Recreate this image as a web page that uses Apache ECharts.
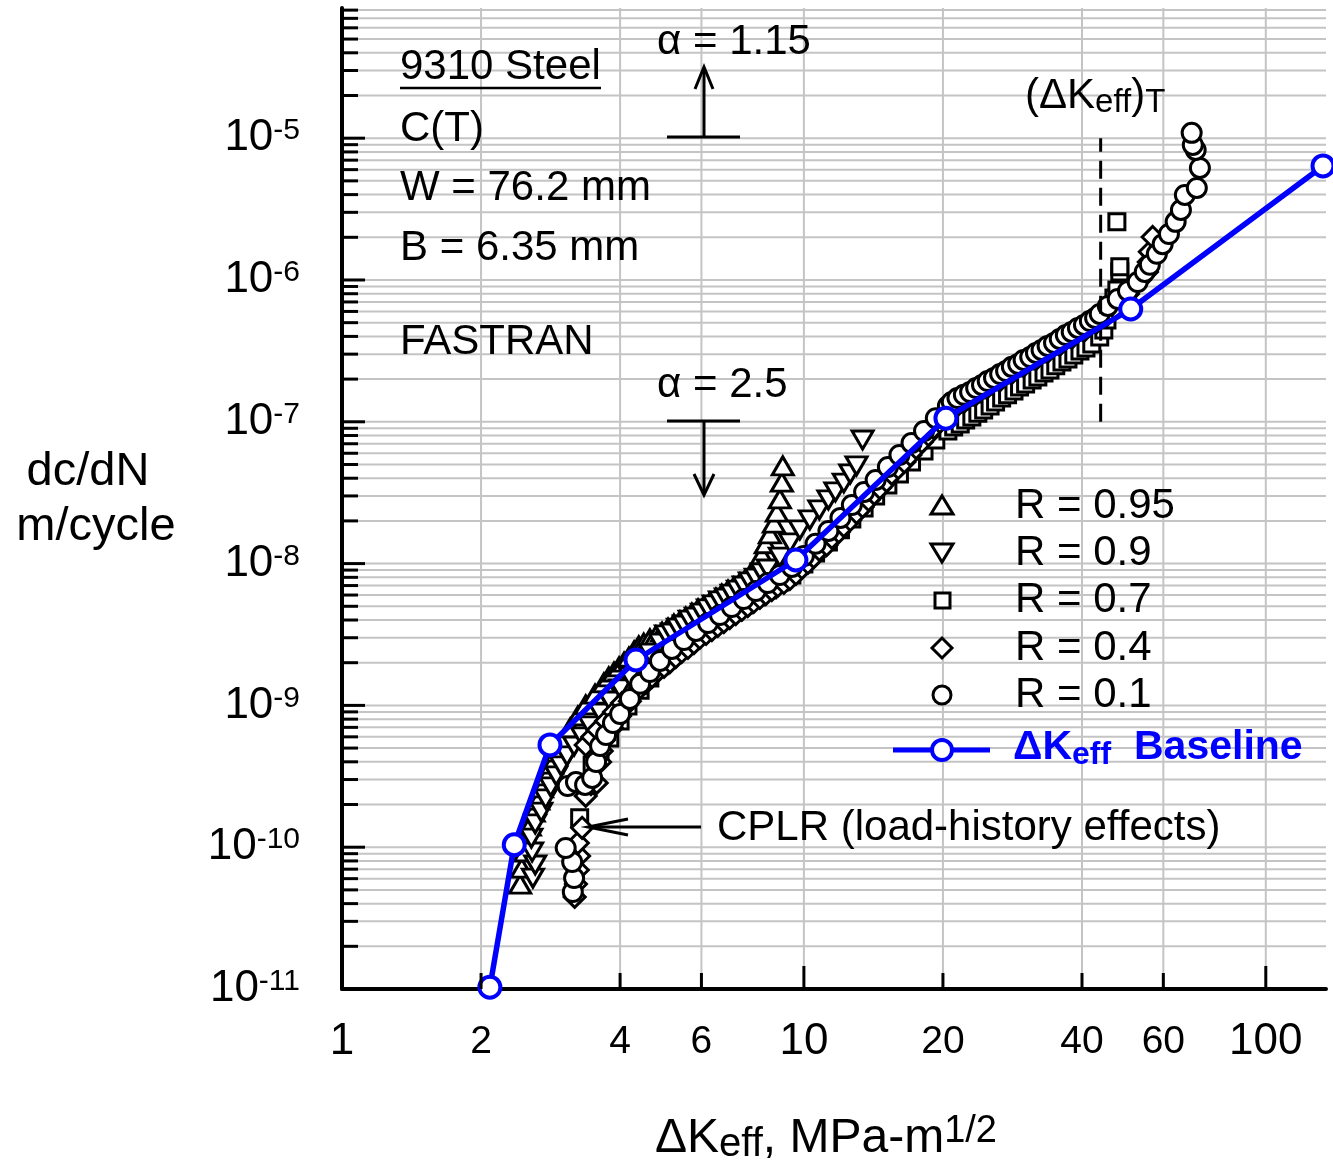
<!DOCTYPE html>
<html><head><meta charset="utf-8">
<script src="https://cdn.jsdelivr.net/npm/echarts@6/dist/echarts.min.js"></script>
<style>html,body{margin:0;padding:0;background:#fff}#c{width:1333px;height:1172px}</style>
</head><body><div id="c"></div>
<script>
// ---------- axis / tick values ----------
const xTickLabels = [1, 2, 4, 6, 10, 20, 40, 60, 100];
const xMajorTicks = [10, 100];
const xMinorTicks = [2, 4, 6, 20, 40, 60];
const yDecades = [1e-11, 1e-10, 1e-9, 1e-8, 1e-7, 1e-6, 1e-5];
const yMinorMantissas = [2, 3, 4, 5, 6, 7, 8, 9];
const X_MIN = 1, X_MAX = 135, Y_MIN = 1e-11, Y_MAX = 8.28e-5;

// ---------- data ----------
const baseline = [[2.09,1.03e-11],[2.36,1.04e-10],[2.82,5.26e-10],[4.33,2.09e-9],[9.61,1.06e-8],[20.3,1.06e-7],[51.0,6.24e-7],[133,6.37e-6]];

const r095 = [[2.43,5.50e-11],[2.45,7.13e-11],[2.49,9.25e-11],[2.52,1.16e-10],[2.55,1.41e-10],[2.60,1.77e-10],[2.66,2.15e-10],[2.71,2.62e-10],[2.78,3.18e-10],[2.85,3.86e-10],[2.92,4.69e-10],[3.01,5.70e-10],[3.12,6.93e-10],[3.24,8.42e-10],[3.37,1.01e-9],[3.53,1.20e-9],[3.69,1.44e-9],[3.78,1.59e-9],[3.88,1.72e-9],[3.98,1.87e-9],[4.08,2.02e-9],[4.18,2.19e-9],[4.29,2.42e-9],[4.39,2.63e-9],[4.50,2.75e-9],[4.64,2.94e-9],[4.78,3.09e-9],[4.93,3.29e-9],[5.08,3.51e-9],[5.23,3.75e-9],[5.39,3.94e-9],[5.55,4.20e-9],[5.72,4.48e-9],[5.90,4.79e-9],[6.07,5.02e-9],[6.26,5.36e-9],[6.45,5.72e-9],[6.64,6.10e-9],[6.85,6.51e-9],[7.05,6.84e-9],[7.27,7.30e-9],[7.45,7.66e-9],[7.64,8.31e-9],[7.91,9.62e-9],[8.11,1.15e-8],[8.27,1.38e-8],[8.44,1.62e-8],[8.61,1.93e-8],[8.74,2.31e-8],[8.87,2.86e-8],[8.96,3.76e-8],[9.00,4.88e-8]];

const r09 = [[2.59,6.06e-11],[2.62,7.49e-11],[2.58,9.25e-11],[2.57,1.16e-10],[2.62,1.46e-10],[2.70,1.77e-10],[2.76,2.19e-10],[2.83,2.66e-10],[2.91,3.18e-10],[2.98,3.74e-10],[3.07,4.40e-10],[3.18,5.17e-10],[3.31,5.99e-10],[3.37,2.30e-10],[3.44,7.16e-10],[3.62,8.84e-10],[3.80,1.07e-9],[4.00,1.31e-9],[4.20,1.59e-9],[4.42,1.93e-9],[4.64,2.34e-9],[4.88,2.75e-9],[5.03,3.14e-9],[5.18,3.24e-9],[5.34,3.51e-9],[5.50,3.69e-9],[5.66,4.00e-9],[5.84,4.20e-9],[6.02,4.48e-9],[6.20,4.79e-9],[6.38,5.11e-9],[6.58,5.45e-9],[6.78,5.72e-9],[6.98,6.10e-9],[7.20,6.51e-9],[7.41,6.95e-9],[7.64,7.42e-9],[7.87,7.91e-9],[8.11,8.59e-9],[8.35,9.16e-9],[8.87,1.11e-8],[9.33,1.40e-8],[9.80,1.73e-8],[10.3,2.03e-8],[10.8,2.39e-8],[11.3,2.81e-8],[11.7,3.20e-8],[12.2,3.70e-8],[12.6,4.29e-8],[13.0,4.88e-8],[13.4,7.44e-8]];

const r07 = [[3.27,1.61e-10],[3.48,3.80e-10],[3.62,4.69e-10],[3.80,5.89e-10],[4.00,7.76e-10],[4.16,9.90e-10],[4.42,1.28e-9],[4.64,1.56e-9],[4.88,1.90e-9],[5.18,2.27e-9],[5.50,2.67e-9],[5.84,3.14e-9],[6.20,3.57e-9],[6.58,4.00e-9],[6.98,4.56e-9],[7.41,5.11e-9],[7.87,5.81e-9],[8.35,6.51e-9],[8.87,7.42e-9],[9.42,8.31e-9],[10.0,9.94e-9],[10.6,1.19e-8],[11.3,1.42e-8],[12.0,1.73e-8],[12.7,2.06e-8],[13.5,2.47e-8],[14.3,3.00e-8],[15.2,3.58e-8],[16.1,4.29e-8],[17.1,5.21e-8],[18.2,6.22e-8],[19.3,7.44e-8],[20.5,8.61e-8],[21.1,9.19e-8],[21.8,9.65e-8],[22.4,1.03e-7],[23.1,1.08e-7],[23.8,1.15e-7],[24.5,1.21e-7],[25.3,1.29e-7],[26.0,1.38e-7],[26.8,1.47e-7],[27.6,1.55e-7],[28.5,1.65e-7],[29.3,1.76e-7],[30.2,1.85e-7],[31.2,1.97e-7],[32.1,2.07e-7],[33.1,2.21e-7],[34.1,2.32e-7],[35.1,2.48e-7],[36.2,2.64e-7],[37.3,2.77e-7],[38.4,2.96e-7],[39.6,3.16e-7],[40.8,3.32e-7],[42.0,3.54e-7],[43.7,3.96e-7],[44.6,4.44e-7],[45.3,5.22e-7],[46.0,6.35e-7],[46.9,7.47e-7],[47.6,8.50e-7],[48.3,1.14e-6],[48.3,1.24e-6],[47.6,2.57e-6]];

const r04 = [[3.19,4.46e-11],[3.21,5.50e-11],[3.24,6.91e-11],[3.26,8.67e-11],[3.24,1.07e-10],[3.31,1.37e-10],[3.37,2.30e-10],[3.46,2.79e-10],[3.56,2.84e-10],[3.62,3.99e-10],[3.65,4.77e-10],[3.69,5.70e-10],[3.37,5.26e-10],[3.48,5.99e-10],[3.58,6.71e-10],[3.73,7.76e-10],[3.88,8.98e-10],[4.04,1.04e-9],[3.84,6.93e-10],[4.00,8.42e-10],[4.20,1.07e-9],[4.42,1.33e-9],[4.55,1.44e-9],[4.69,1.59e-9],[4.83,1.75e-9],[4.98,1.87e-9],[5.13,2.02e-9],[5.28,2.19e-9],[5.44,2.38e-9],[5.61,2.54e-9],[5.78,2.75e-9],[5.95,2.99e-9],[6.14,3.19e-9],[6.32,3.40e-9],[6.51,3.63e-9],[6.71,3.87e-9],[6.91,4.13e-9],[7.12,4.41e-9],[7.34,4.71e-9],[7.56,5.02e-9],[7.79,5.36e-9],[8.03,5.72e-9],[8.27,6.10e-9],[8.52,6.51e-9],[8.78,6.95e-9],[9.05,7.30e-9],[9.33,7.79e-9],[9.61,8.45e-9],[9.90,9.31e-9],[10.2,1.01e-8],[10.5,1.11e-8],[10.8,1.25e-8],[11.2,1.35e-8],[11.5,1.52e-8],[11.9,1.67e-8],[12.2,1.84e-8],[12.6,2.03e-8],[13.0,2.28e-8],[13.4,2.51e-8],[13.8,2.81e-8],[14.2,3.10e-8],[14.6,3.41e-8],[15.1,3.82e-8],[15.5,4.29e-8],[16.0,4.72e-8],[16.5,5.21e-8],[17.0,5.83e-8],[17.5,6.53e-8],[18.0,7.20e-8],[18.6,8.07e-8],[19.1,9.04e-8],[19.7,9.97e-8],[20.9,1.19e-7],[22.2,1.38e-7],[23.6,1.57e-7],[25.0,1.76e-7],[26.6,1.97e-7],[28.2,2.21e-7],[29.9,2.48e-7],[31.8,2.77e-7],[33.7,3.11e-7],[35.8,3.48e-7],[38.0,3.90e-7],[40.4,4.37e-7],[42.9,4.98e-7],[45.1,5.57e-7],[47.1,6.35e-7],[48.8,7.11e-7],[50.3,7.97e-7],[51.5,8.92e-7],[53.4,1.00e-6],[55.3,1.14e-6],[55.8,1.34e-6],[56.1,1.58e-6],[56.9,2.01e-6]];

const r01 = [[3.16,4.83e-11],[3.18,6.06e-11],[3.15,7.86e-11],[3.05,9.87e-11],[3.08,2.70e-10],[3.21,2.88e-10],[3.36,2.75e-10],[3.48,3.08e-10],[3.55,3.99e-10],[3.62,5.17e-10],[3.73,6.18e-10],[3.86,7.51e-10],[4.00,8.70e-10],[4.20,1.11e-9],[4.42,1.42e-9],[4.64,1.72e-9],[4.88,2.06e-9],[5.18,2.50e-9],[5.50,2.89e-9],[5.84,3.35e-9],[6.20,3.81e-9],[6.58,4.34e-9],[6.98,4.94e-9],[7.41,5.63e-9],[7.87,6.41e-9],[8.35,7.30e-9],[8.87,8.31e-9],[9.42,9.47e-9],[10.0,1.13e-8],[10.6,1.38e-8],[11.3,1.70e-8],[12.0,2.10e-8],[12.7,2.59e-8],[13.5,3.20e-8],[14.3,3.89e-8],[15.2,4.80e-8],[16.1,5.83e-8],[17.1,7.09e-8],[18.2,8.61e-8],[19.3,1.06e-7],[20.5,1.29e-7],[20.9,1.38e-7],[21.5,1.47e-7],[22.2,1.55e-7],[22.9,1.62e-7],[23.6,1.73e-7],[24.3,1.82e-7],[25.0,1.94e-7],[25.8,2.04e-7],[26.6,2.17e-7],[27.4,2.28e-7],[28.2,2.44e-7],[29.1,2.56e-7],[29.9,2.73e-7],[30.9,2.86e-7],[31.8,3.06e-7],[32.7,3.21e-7],[33.7,3.43e-7],[34.8,3.60e-7],[35.8,3.84e-7],[36.9,4.09e-7],[38.0,4.30e-7],[39.2,4.59e-7],[40.4,4.82e-7],[41.6,5.14e-7],[42.7,5.40e-7],[43.7,5.76e-7],[45.5,6.56e-7],[47.8,7.35e-7],[50.3,8.37e-7],[52.8,9.68e-7],[54.7,1.14e-6],[56.1,1.28e-6],[58.1,1.53e-6],[59.8,1.79e-6],[61.7,2.11e-6],[63.8,2.57e-6],[65.5,3.12e-6],[66.8,3.98e-6],[70.9,4.46e-6],[72.0,6.17e-6],[70.5,8.26e-6],[69.5,8.96e-6],[69.1,1.09e-5]];

const thresholdLine = [[43.9,1e-7],[43.9,1e-5]];

// ---------- build ----------
const FONT = "'Liberation Sans', Arial, Helvetica, sans-serif";
const yGridValues = [];
yDecades.forEach(d => { yGridValues.push(d); yMinorMantissas.forEach(m => { const v = m * d; if (v <= Y_MAX) yGridValues.push(v); }); });
const yMinorValues = yGridValues.filter(v => yDecades.indexOf(v) < 0);

const gridData = xTickLabels.map(v => [v, Y_MIN, 0]).concat(yGridValues.map(v => [X_MIN, v, 1]));
const tickData = yDecades.map(v => [X_MIN, v, 2])
  .concat(yMinorValues.map(v => [X_MIN, v, 3]))
  .concat(xMajorTicks.map(v => [v, Y_MIN, 4]))
  .concat(xMinorTicks.map(v => [v, Y_MIN, 5]));

function renderLines(params, api) {
  const kind = api.value(2);
  const vx = api.value(0), vy = api.value(1);
  const p = api.coord([vx, vy]);
  let x2 = p[0], y2 = p[1], stroke = '#000', lw = 3;
  if (kind === 0) { const q = api.coord([vx, Y_MAX]); x2 = q[0]; y2 = q[1]; stroke = '#c4c4c4'; lw = 2; }
  else if (kind === 1) { const q = api.coord([X_MAX, vy]); x2 = q[0]; y2 = q[1]; stroke = '#c4c4c4'; lw = 2; }
  else if (kind === 2) { x2 = p[0] + 23; }
  else if (kind === 3) { x2 = p[0] + 16; }
  else if (kind === 4) { y2 = p[1] - 23; }
  else if (kind === 5) { y2 = p[1] - 16; }
  return { type: 'line', shape: { x1: p[0], y1: p[1], x2: x2, y2: y2 }, style: { stroke: stroke, lineWidth: lw } };
}

const markerStyle = { color: '#fff', borderColor: '#000', borderWidth: 3, opacity: 1 };
function scatter(name, data, symbol, size) {
  return { name: name, type: 'scatter', data: data, symbol: symbol, symbolSize: size,
    itemStyle: markerStyle, z: 3, silent: true, clip: false, large: false };
}

function T(x, y, text, size, extra) {
  return Object.assign({ type: 'text', x: x, y: y, z: 100, silent: true,
    style: Object.assign({ text: text, fill: '#000', font: size + 'px ' + FONT,
      verticalAlign: 'middle', textVerticalAlign: 'middle', align: 'left', textAlign: 'left' }, extra || {}) });
}
function L(x1, y1, x2, y2, w, color) {
  return { type: 'line', z: 100, silent: true, shape: { x1: x1, y1: y1, x2: x2, y2: y2 }, style: { stroke: color || '#000', lineWidth: w || 3 } };
}
function PL(points, w) {
  return { type: 'polyline', z: 100, silent: true, shape: { points: points }, style: { stroke: '#000', lineWidth: w || 3, fill: null } };
}
const mk = { stroke: '#000', lineWidth: 3, fill: '#fff' };
const subRich = (main, sub, color, weight) => ({
  m: { fontSize: main, lineHeight: main + 5, fontFamily: FONT, fill: color, fontWeight: weight },
  s: { fontSize: sub, lineHeight: 18, verticalAlign: 'bottom', fontFamily: FONT, fill: color, fontWeight: weight }
});

const graphics = [
  T(400, 67, '9310 Steel', 42), L(400, 88, 601, 88, 2.5),
  T(400, 129, 'C(T)', 42),
  T(400, 188, 'W = 76.2 mm', 42),
  T(400, 248, 'B = 6.35 mm', 42),
  T(400, 342, 'FASTRAN', 42),
  T(657, 42, 'α = 1.15', 42),
  L(667, 137, 740, 137), L(704, 137, 704, 68), PL([[695, 89], [704, 67], [713, 89]]),
  T(657, 385, 'α = 2.5', 42),
  L(667, 421, 740, 421), L(704, 421, 704, 493), PL([[694, 474], [704, 495], [714, 474]]),
  { type: 'text', x: 1025, y: 96, z: 100, silent: true, style: { text: '{m|(ΔK}{s|eff}{m|)}{s|T}', rich: subRich(42, 33, '#000'), verticalAlign: 'middle', textVerticalAlign: 'middle' } },
  T(717, 828, 'CPLR (load-history effects)', 42),
  L(701, 827, 590, 827), PL([[628, 819], [588, 827], [628, 835]]),
  // legend
  { type: 'polygon', z: 100, silent: true, shape: { points: [[931, 514], [953, 514], [942, 496]] }, style: mk },
  { type: 'polygon', z: 100, silent: true, shape: { points: [[931, 544], [953, 544], [942, 562]] }, style: mk },
  { type: 'rect', z: 100, silent: true, shape: { x: 935, y: 593, width: 15, height: 15 }, style: mk },
  { type: 'polygon', z: 100, silent: true, shape: { points: [[942, 638], [952, 648], [942, 658], [932, 648]] }, style: mk },
  { type: 'circle', z: 100, silent: true, shape: { cx: 942, cy: 695, r: 9 }, style: mk },
  T(1015, 506, 'R = 0.95', 42), T(1015, 553, 'R = 0.9', 42), T(1015, 600, 'R = 0.7', 42),
  T(1015, 648, 'R = 0.4', 42), T(1015, 695, 'R = 0.1', 42),
  L(893, 750, 990, 750, 5, '#0000ff'),
  { type: 'circle', z: 100, silent: true, shape: { cx: 942, cy: 750, r: 10 }, style: { stroke: '#0000ff', lineWidth: 4, fill: '#fff' } },
  { type: 'text', x: 1013, y: 748, z: 100, silent: true, style: { text: '{m|ΔK}{s|eff}{m|  Baseline}', rich: subRich(41, 32, '#0000ff', 'bold'), verticalAlign: 'middle', textVerticalAlign: 'middle' } },
  // axis titles
  T(88, 472, 'dc/dN', 47, { align: 'center', textAlign: 'center' }),
  T(96, 527, 'm/cycle', 47, { align: 'center', textAlign: 'center' }),
  { type: 'text', x: 655, y: 1139, z: 100, silent: true, style: { text: '{m|ΔK}{s|eff}{m|, MPa-m}{u|1/2}', rich: {
      m: { fontSize: 48, lineHeight: 52, fontFamily: FONT, fill: '#000' },
      s: { fontSize: 40, lineHeight: 22, verticalAlign: 'bottom', fontFamily: FONT, fill: '#000' },
      u: { fontSize: 38, lineHeight: 4, verticalAlign: 'top', fontFamily: FONT, fill: '#000' } }, verticalAlign: 'middle', textVerticalAlign: 'middle' } }
];

const chart = echarts.init(document.getElementById('c'), null, { renderer: 'canvas', width: 1333, height: 1172 });
chart.setOption({
  animation: false,
  backgroundColor: '#fff',
  grid: { left: 342, right: 7, top: 8, bottom: 183, containLabel: false, outerBoundsMode: 'none' },
  xAxis: {
    type: 'log', logBase: 10, min: X_MIN, max: X_MAX,
    axisLine: { show: true, lineStyle: { color: '#000', width: 4 } },
    axisTick: { show: false }, splitLine: { show: false }, minorTick: { show: false }, minorSplitLine: { show: false },
    axisLabel: {
      customValues: xTickLabels, margin: 29, color: '#000', fontFamily: FONT,
      formatter: function (v) { const r = Math.round(v); return (r === 1 || r === 10 || r === 100) ? '{L|' + r + '}' : '{S|' + r + '}'; },
      rich: { L: { fontSize: 44, lineHeight: 48, fontFamily: FONT, color: '#000' }, S: { fontSize: 39, lineHeight: 48, fontFamily: FONT, color: '#000' } }
    }
  },
  yAxis: {
    type: 'log', logBase: 10, min: Y_MIN, max: Y_MAX,
    axisLine: { show: true, lineStyle: { color: '#000', width: 4 } },
    axisTick: { show: false }, splitLine: { show: false }, minorTick: { show: false }, minorSplitLine: { show: false },
    axisLabel: {
      customValues: yDecades, margin: 42, color: '#000', fontFamily: FONT,
      formatter: function (v) { return '{b|10}{s|' + Math.round(Math.log10(v)) + '}'; },
      rich: { b: { fontSize: 44, lineHeight: 44, fontFamily: FONT, color: '#000' }, s: { fontSize: 30, lineHeight: 20, verticalAlign: 'top', fontFamily: FONT, color: '#000' } }
    }
  },
  series: [
    { type: 'custom', name: 'grid', data: gridData, encode: { x: 0, y: 1 }, renderItem: renderLines, z: 0, silent: true, clip: false },
    scatter('R = 0.95', r095, 'triangle', [21, 18]),
    scatter('R = 0.9', r09, 'path://M0,0L20,0L10,17Z', [21, 18]),
    scatter('R = 0.7', r07, 'rect', 16),
    scatter('R = 0.4', r04, 'diamond', [21, 21]),
    scatter('R = 0.1', r01, 'circle', 19),
    { type: 'line', name: 'threshold', data: thresholdLine, symbol: 'none', z: 4, silent: true,
      lineStyle: { color: '#000', width: 3, type: [18, 9] } },
    { type: 'line', name: 'ΔKeff Baseline', data: baseline, symbol: 'circle', symbolSize: 21, z: 5, silent: true, clip: false,
      lineStyle: { color: '#0000ff', width: 5.5 },
      itemStyle: { color: '#fff', borderColor: '#0000ff', borderWidth: 4, opacity: 1 } },
    { type: 'custom', name: 'ticks', data: tickData, encode: { x: 0, y: 1 }, renderItem: renderLines, z: 6, silent: true, clip: false }
  ],
  graphic: { elements: graphics }
});
</script>
</body></html>
